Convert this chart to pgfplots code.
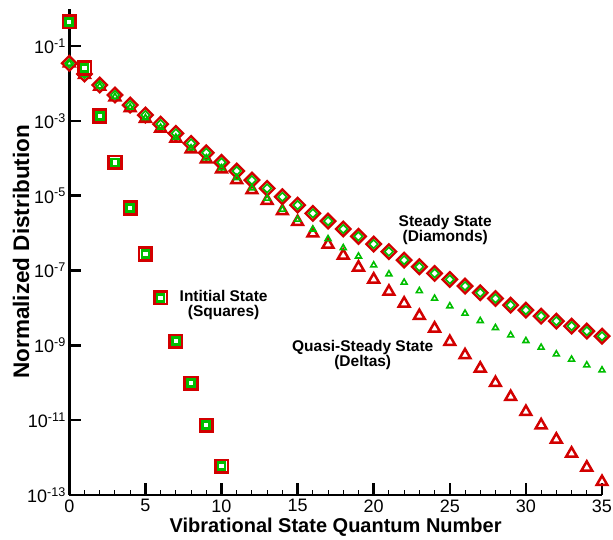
\documentclass[border=0pt]{standalone}
\usepackage{pgfplots}
\pgfplotsset{compat=1.18}
\usepackage{pgfplotstable}
\usepackage{fontspec}
\setmainfont{Liberation Sans}

\definecolor{mred}{RGB}{210,0,0}
\definecolor{mgreen}{RGB}{0,190,0}

% Initial vibrational distribution
\pgfplotstableread{
n  init
0  4.47e-1
1  2.58e-2
2  1.34e-3
3  7.76e-5
4  4.66e-6
5  2.75e-7
6  1.88e-8
7  1.29e-9
8  9.75e-11
9  7.35e-12
10 5.89e-13
}\initial

% steady state (diamonds), quasi-steady state (deltas), intermediate state (small deltas)
\pgfplotstableread{
n  steady   quasi    inter
0  3.44e-2  3.44e-2  3.44e-2
1  1.78e-2  1.70e-2  1.72e-2
2  9.06e-3  8.26e-3  8.45e-3
3  4.90e-3  4.27e-3  4.42e-3
4  2.64e-3  2.20e-3  2.30e-3
5  1.43e-3  1.14e-3  1.20e-3
6  8.20e-4  6.22e-4  6.67e-4
7  4.63e-4  3.36e-4  3.60e-4
8  2.50e-4  1.73e-4  1.87e-4
9  1.40e-4  9.35e-5  1.01e-4
10 7.76e-5  5.05e-5  5.47e-5
11 4.55e-5  2.61e-5  3.01e-5
12 2.61e-5  1.41e-5  1.60e-5
13 1.57e-5  7.31e-6  8.47e-6
14 9.35e-6  3.87e-6  4.31e-6
15 5.61e-6  2.00e-6  2.32e-6
16 3.37e-6  9.82e-7  1.26e-6
17 2.09e-6  4.93e-7  7.00e-7
18 1.29e-6  2.51e-7  4.02e-7
19 8.17e-7  1.21e-7  2.40e-7
20 5.08e-7  5.78e-8  1.39e-7
21 3.20e-7  2.73e-8  8.02e-8
22 1.90e-7  1.32e-8  4.81e-8
23 1.26e-7  6.15e-9  2.86e-8
24 8.36e-8  2.83e-9  1.79e-8
25 5.78e-8  1.24e-9  1.12e-8
26 3.83e-8  5.47e-10 7.13e-9
27 2.54e-8  2.41e-10 4.52e-9
28 1.79e-8  9.93e-11 2.94e-9
29 1.19e-8  4.20e-11 1.87e-9
30 8.73e-9  1.67e-11 1.32e-9
31 6.04e-9  7.35e-12 8.79e-10
32 4.44e-9  3.05e-12 5.82e-10
33 3.26e-9  1.29e-12 4.20e-10
34 2.40e-9  5.43e-13 2.96e-10
35 1.76e-9  2.24e-13 2.17e-10
}\profiles

\begin{document}
\begin{tikzpicture}
\begin{axis}[
  at={(0,0)}, anchor=south west,
  scale only axis, width=532.7pt, height=486.4pt,
  xmin=0, xmax=35,
  ymode=log, ymin=1e-13, ymax=1,
  axis x line*=bottom, axis y line*=left,
  axis line style={-, line width=2.6pt, black},
  axis on top, clip=false,
  tick align=inside,
  xtick={0,5,10,15,20,25,30,35},
  xticklabels={0,5,10,15,20,25,30,35},
  minor x tick num=4,
  ytick={1e-1,1e-3,1e-5,1e-7,1e-9,1e-11,1e-13},
  yticklabels={10\textsuperscript{-1},10\textsuperscript{-3},10\textsuperscript{-5},10\textsuperscript{-7},10\textsuperscript{-9},10\textsuperscript{-11},10\textsuperscript{-13}},
  yminorticks=false,
  major tick length=12pt, minor tick length=5pt,
  major tick style={line width=2.6pt, black},
  minor tick style={line width=1pt, black},
  tick label style={font=\fontsize{18}{20}\selectfont},
  xticklabel style={yshift=-1pt},
  xlabel={Vibrational State Quantum Number},
  ylabel={Normalized Distribution},
  xlabel style={font=\fontsize{20}{22}\selectfont\bfseries,
    at={(axis description cs:0.5,-0.0761)}, anchor=base},
  ylabel style={font=\fontsize{22.5}{24}\selectfont\bfseries,
    at={(axis description cs:-0.0907,0.5)}, anchor=center},
]
% quasi-steady state: large open deltas
\addplot[only marks, mark=triangle, mark size=6.2pt,
  mark options={draw=mred, line width=2.5pt}]
  table[x=n, y=quasi] {\profiles};
% steady state: red/green diamonds
\addplot[only marks, mark=square*, mark size=5.1pt,
  mark options={rotate=45, draw=mred, fill=white, line width=2.4pt}]
  table[x=n, y=steady] {\profiles};
\addplot[only marks, mark=square, mark size=3.0pt,
  mark options={rotate=45, draw=mgreen, line width=1.6pt}]
  table[x=n, y=steady] {\profiles};
% intermediate state: small green deltas
\addplot[only marks, mark=triangle, mark size=3.4pt,
  mark options={draw=mgreen, line width=1.6pt}]
  table[x=n, y=inter] {\profiles};
% initial state: red/green squares
\addplot[only marks, mark=square*, mark size=6.3pt,
  mark options={draw=mred, fill=white, line width=2.6pt}]
  table[x=n, y=init] {\initial};
\addplot[only marks, mark=square, mark size=3.5pt,
  mark options={draw=mgreen, line width=2.7pt}]
  table[x=n, y=init] {\initial};

\node[font=\fontsize{15.5}{15}\selectfont\bfseries, align=center]
  at (axis cs:24.7,1.2e-6) {Steady State\\(Diamonds)};
\node[font=\fontsize{15.5}{15}\selectfont\bfseries, align=center]
  at (axis cs:10.14,1.23e-8) {Intitial State\\(Squares)};
\node[font=\fontsize{15.5}{15}\selectfont\bfseries, align=center]
  at (axis cs:19.28,5.6e-10) {Quasi-Steady State\\(Deltas)};
\end{axis}
\pgfresetboundingbox
\path (-69.3pt,-45pt) rectangle (543.7pt,495pt);
\end{tikzpicture}
\end{document}
